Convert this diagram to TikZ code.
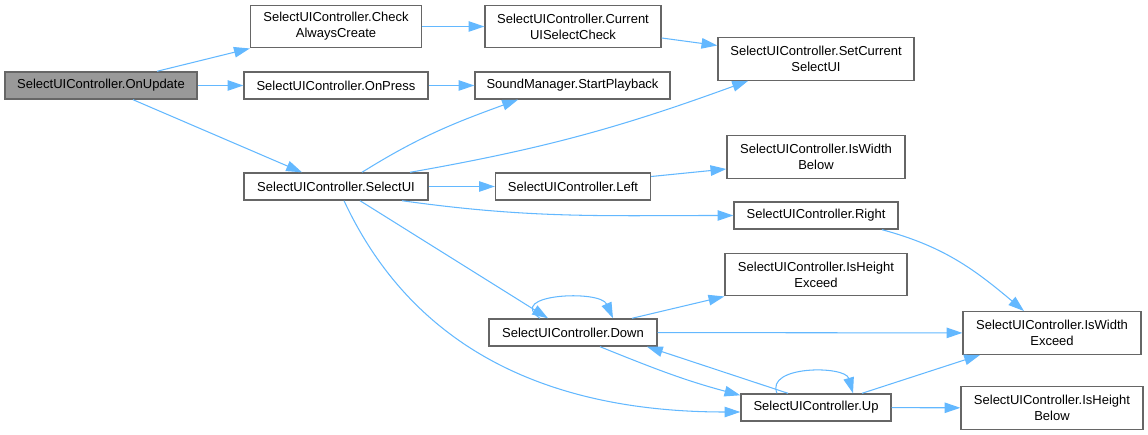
\documentclass[tikz,border=0pt]{standalone}
\usepackage{fontspec}
\setmainfont{Liberation Sans}
\usetikzlibrary{arrows.meta}
\definecolor{callblue}{HTML}{63B8FF}
\definecolor{boxgray}{HTML}{666666}
\definecolor{rootgray}{HTML}{999999}
\newcommand{\callfont}{\fontsize{7.4pt}{9.2pt}\selectfont}
\tikzset{
  callarrow/.style={-{Triangle[length=9pt, width=6pt]}, draw=callblue, line width=0.6pt},
  fnbox/.style={draw=boxgray, line width=0.8pt, fill=white, minimum height=0.54cm, inner sep=1pt, align=center, font=\callfont},
  fnbox2/.style={fnbox, minimum height=0.85cm},
  rootbox/.style={fnbox, fill=rootgray}
}

\begin{document}
\begin{tikzpicture}[x=0.02cm, y=-0.02cm]
  \useasboundingbox (0,0) rectangle (1148,435);
  \node[rootbox, minimum width=3.84cm] (upd) at (101,85.5) {SelectUIController.OnUpdate};
  \node[fnbox2, minimum width=3.42cm] (chk) at (336,26.5) {SelectUIController.Check\\AlwaysCreate};
  \node[fnbox, minimum width=3.68cm] (prs) at (336,85.5) {SelectUIController.OnPress};
  \node[fnbox, minimum width=3.68cm] (sel) at (336,186.5) {SelectUIController.SelectUI};
  \node[fnbox2, minimum width=3.52cm] (cur) at (573,26.5) {SelectUIController.Current\\UISelectCheck};
  \node[fnbox, minimum width=3.9cm] (snd) at (572.5,85.5) {SoundManager.StartPlayback};
  \node[fnbox2, minimum width=3.92cm] (scs) at (816,59) {SelectUIController.SetCurrent\\SelectUI};
  \node[fnbox, minimum width=3.1cm] (lft) at (573,186.5) {SelectUIController.Left};
  \node[fnbox2, minimum width=3.56cm] (wbl) at (816,157) {SelectUIController.IsWidth\\Below};
  \node[fnbox, minimum width=3.28cm] (rgt) at (816,215.5) {SelectUIController.Right};
  \node[fnbox2, minimum width=3.64cm] (hex) at (816,274.5) {SelectUIController.IsHeight\\Exceed};
  \node[fnbox, minimum width=3.36cm] (dwn) at (573,332.5) {SelectUIController.Down};
  \node[fnbox2, minimum width=3.56cm] (wex) at (1052,333) {SelectUIController.IsWidth\\Exceed};
  \node[fnbox, minimum width=3.0cm] (up) at (816,407.5) {SelectUIController.Up};
  \node[fnbox2, minimum width=3.64cm] (hbl) at (1052,408) {SelectUIController.IsHeight\\Below};

  \draw[callarrow] ([xshift=1.12cm]upd.north) -- (chk.south west);
  \draw[callarrow] (upd) -- (prs);
  \draw[callarrow] ([xshift=0.64cm]upd.south) -- ([xshift=-0.68cm]sel.north);
  \draw[callarrow] (chk) -- (cur);
  \draw[callarrow] (prs) -- (snd);
  \draw[callarrow] ([yshift=-0.23cm]cur.east) -- ([yshift=0.27cm]scs.west);
  \draw[callarrow] ([xshift=0.52cm]sel.north) to[out=32, in=200] ([xshift=-1.09cm]snd.south);
  \draw[callarrow] ([xshift=1.48cm]sel.north) to[out=10, in=200] ([xshift=-1.36cm]scs.south);
  \draw[callarrow] (sel) -- (lft);
  \draw[callarrow] ([xshift=1.32cm]sel.south) to[out=-8, in=180] (rgt.west);
  \draw[callarrow] ([xshift=0.48cm]sel.south) -- ([xshift=-0.5cm]dwn.north);
  \draw[callarrow] ([xshift=0.16cm]sel.south) to[out=-65, in=180] ([yshift=-0.09cm]up.west);
  \draw[callarrow] ([yshift=0.2cm]lft.east) -- ([yshift=-0.24cm]wbl.west);
  \draw[callarrow] ([xshift=1.32cm]rgt.south) to[out=-15, in=140] ([xshift=-0.56cm]wex.north);
  \draw[callarrow] ([xshift=1.18cm]dwn.north) -- (hex.south west);
  \draw[callarrow] (dwn) -- (wex);
  \draw[callarrow] ([xshift=0.54cm]dwn.south) to[out=-22, in=165] ([yshift=-0.04cm]up.north west);
  \draw[callarrow] ([xshift=-0.66cm]dwn.north) .. controls +(-35,-24) and +(-13,-29) .. ([xshift=0.8cm]dwn.north);
  \draw[callarrow] ([xshift=-0.56cm]up.north) -- ([xshift=1.48cm]dwn.south);
  \draw[callarrow] ([xshift=-0.78cm]up.north) .. controls +(-12,-28) and +(-8,-28) .. ([xshift=0.74cm]up.north);
  \draw[callarrow] ([xshift=0.92cm]up.north) -- ([xshift=-1.44cm]wex.south);
  \draw[callarrow] (up) -- (hbl);
\end{tikzpicture}
\end{document}
